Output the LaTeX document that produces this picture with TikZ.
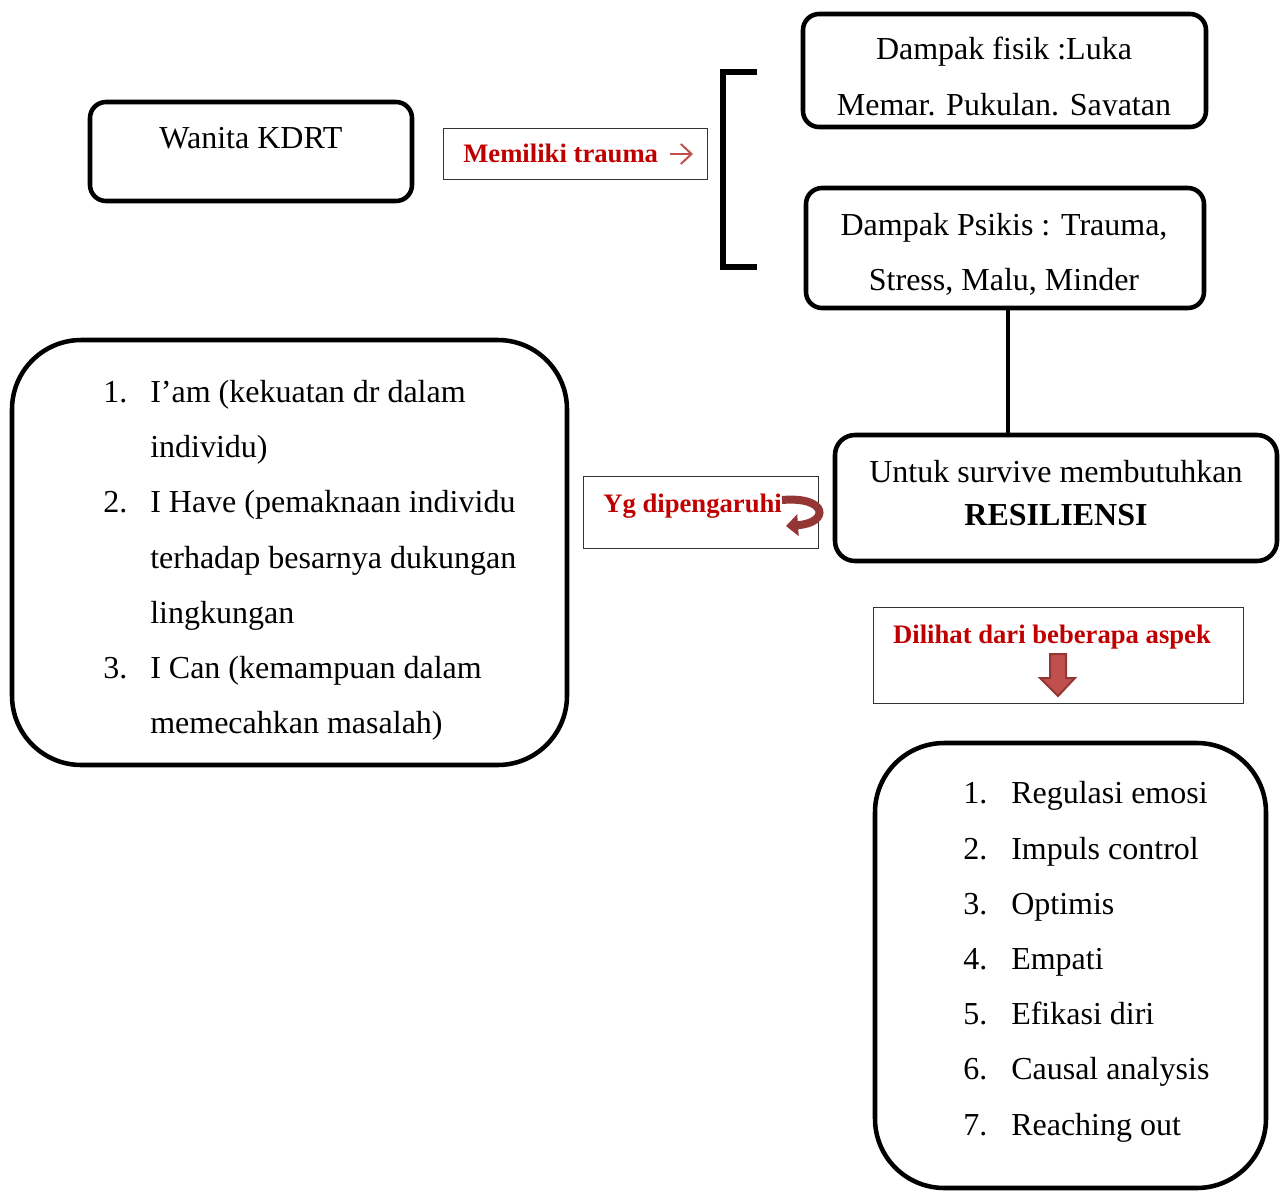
\documentclass[tikz,border=0pt]{standalone}
\usepackage{fontspec}
\setmainfont{Liberation Serif}
\usetikzlibrary{arrows.meta}
\definecolor{kdred}{HTML}{C00000}
\definecolor{kdarrow}{HTML}{C0504D}
\definecolor{kddark}{HTML}{943634}

\begin{document}
\begin{tikzpicture}[x=0.75pt, y=-0.75pt,
	roundbox/.style={draw, line width=3.4pt, rounded corners=12pt, inner sep=0pt},
	bigbox/.style={draw, line width=3.4pt, rounded corners=52pt, inner sep=0pt},
	labelbox/.style={draw=black!80, line width=0.8pt, inner sep=0pt},
	body/.style={font=\fontsize{24}{29}\selectfont, inner sep=0pt},
	redlabel/.style={font=\bfseries\fontsize{20}{24}\selectfont, text=kdred, inner sep=0pt}]

		\useasboundingbox (0,0) rectangle (1282,1192);

		% boxes
		\node[roundbox, minimum width=241.5pt, minimum height=74.25pt] (wanita) at (251,151.5) {};
		\node[labelbox, minimum width=198pt, minimum height=38.25pt] (trauma) at (575.5,154) {};
		\node[roundbox, minimum width=302.25pt, minimum height=84.75pt] (fisik) at (1004.5,70.5) {};
		\node[roundbox, minimum width=298.5pt, minimum height=90pt] (psikis) at (1005,248) {};
		\node[roundbox, minimum width=331.5pt, minimum height=94.5pt, rounded corners=15pt] (survive) at (1056,498) {};
		\node[labelbox, minimum width=176.25pt, minimum height=54pt] (pengaruh) at (701,512.5) {};
		\node[bigbox, minimum width=416.25pt, minimum height=318.75pt] (faktor) at (289.5,552.5) {};
		\node[labelbox, minimum width=277.5pt, minimum height=72pt] (dilihat) at (1058.5,655.5) {};
		\node[bigbox, minimum width=293.25pt, minimum height=333.75pt] (aspek) at (1070.5,965.5) {};

		% texts
		\node[body, anchor=base] (wanita text) at (251,148) {Wanita KDRT};

		\node[redlabel, anchor=base west] (trauma text) at (463,162) {Memiliki trauma};
		\coordinate (trauma tail) at (670,154);
		\coordinate (trauma tip) at (693,154);
		\draw[kdarrow, line width=1.5pt, -{Straight Barb[length=8pt,width=15pt]}] (trauma tail) -- (trauma tip);

		\node[body, anchor=base] (fisik one) at (1004,59) {Dampak fisik :Luka};
		\begin{scope}
			\clip (806,16) rectangle (1204,115);
			\node[body, anchor=base] (fisik two) at (1004,115) {Memar. Pukulan. Sayatan};
		\end{scope}

		\node[body, anchor=base] (psikis one) at (1004,235) {Dampak Psikis : Trauma,};
		\node[body, anchor=base] (psikis two) at (1004,290) {Stress, Malu, Minder};

		\node[body, anchor=base] (survive one) at (1056,482) {Untuk survive membutuhkan};
		\node[body, anchor=base, font=\bfseries\fontsize{24}{29}\selectfont] (survive two) at (1056,525) {RESILIENSI};

		\node[redlabel, anchor=base west] (pengaruh text) at (603,512) {Yg dipengaruhi};
		\coordinate (turn start) at (782,500);
		\coordinate (turn end) at (786,526);
		\draw[kddark, line width=6pt, -{Triangle[length=9pt,width=16pt]}] (turn start) .. controls (828,496) and (830,523) .. (turn end);

		\node[redlabel, anchor=base] (dilihat text) at (1052,643) {Dilihat dari beberapa aspek};
		\draw[fill=kdarrow, draw=kddark, line width=1.5pt, line join=miter] (1050,654) -- (1066,654) -- (1066,678) -- (1075,678) -- (1058,696) -- (1040,678) -- (1050,678) -- cycle;

		% bracket and link
		\draw[line width=4.5pt] (757,72) -- (723,72) -- (723,267) -- (757,267);
		\draw[line width=3.4pt] ([xshift=2.25pt]psikis.south) -- ([xshift=2.25pt]psikis.south |- survive.north);

		% left list
		\node[body, anchor=base west] (fa num1) at (103,402) {1.};
		\node[body, anchor=base west] (fa line1) at (150,402) {I’am (kekuatan dr dalam};
		\node[body, anchor=base west] (fa line2) at (150,457) {individu)};
		\node[body, anchor=base west] (fa num2) at (103,512) {2.};
		\node[body, anchor=base west] (fa line3) at (150,512) {I Have (pemaknaan individu};
		\node[body, anchor=base west] (fa line4) at (150,568) {terhadap besarnya dukungan};
		\node[body, anchor=base west] (fa line5) at (150,623) {lingkungan};
		\node[body, anchor=base west] (fa num3) at (103,678) {3.};
		\node[body, anchor=base west] (fa line6) at (150,678) {I Can (kemampuan dalam};
		\node[body, anchor=base west] (fa line7) at (150,733) {memecahkan masalah)};

		% right list
		\node[body, anchor=base west] (as num1) at (963,803) {1.};
		\node[body, anchor=base west] (as line1) at (1011,803) {Regulasi emosi};
		\node[body, anchor=base west] (as num2) at (963,859) {2.};
		\node[body, anchor=base west] (as line2) at (1011,859) {Impuls control};
		\node[body, anchor=base west] (as num3) at (963,914) {3.};
		\node[body, anchor=base west] (as line3) at (1011,914) {Optimis};
		\node[body, anchor=base west] (as num4) at (963,969) {4.};
		\node[body, anchor=base west] (as line4) at (1011,969) {Empati};
		\node[body, anchor=base west] (as num5) at (963,1024) {5.};
		\node[body, anchor=base west] (as line5) at (1011,1024) {Efikasi diri};
		\node[body, anchor=base west] (as num6) at (963,1079) {6.};
		\node[body, anchor=base west] (as line6) at (1011,1079) {Causal analysis};
		\node[body, anchor=base west] (as num7) at (963,1135) {7.};
		\node[body, anchor=base west] (as line7) at (1011,1135) {Reaching out};

	\end{tikzpicture}
\end{document}
